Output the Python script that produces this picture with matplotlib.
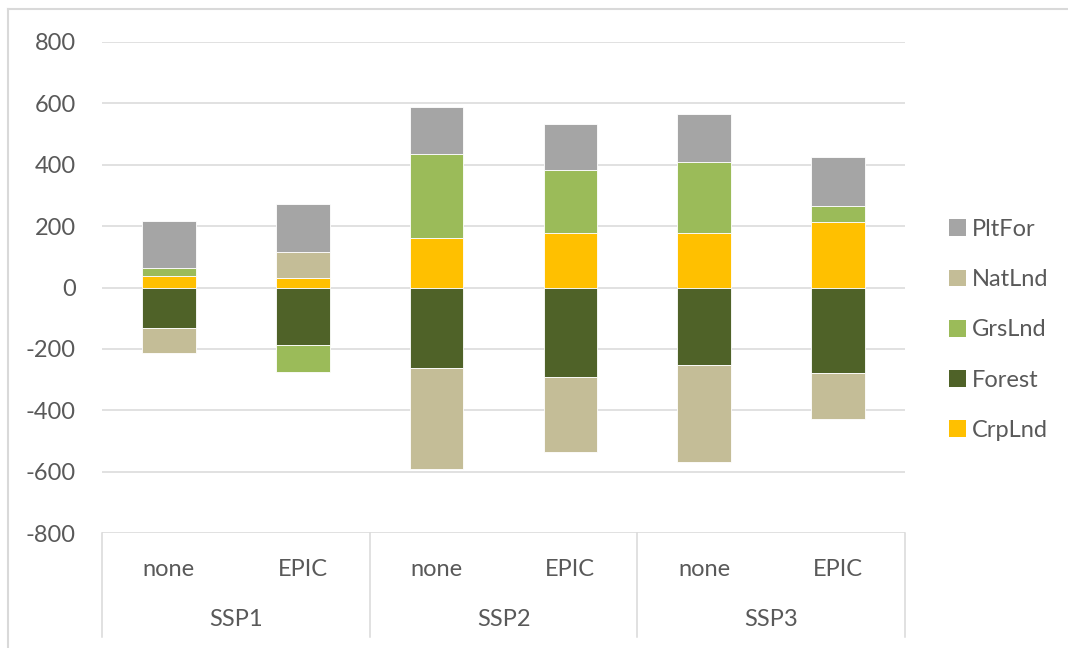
import matplotlib
matplotlib.use("Agg")
import matplotlib.pyplot as plt
from matplotlib.lines import Line2D
from matplotlib.patches import Patch
import numpy as np

plt.rcParams['font.family'] = ['Lato', 'DejaVu Sans']

scenarios = ["SSP1", "SSP2", "SSP3"]
variants = ["none", "EPIC"]
series_names = ["CrpLnd", "Forest", "GrsLnd", "NatLnd", "PltFor"]
CrpLnd = [39, 30, 161, 179, 178, 215]
Forest = [-133, -189, -263, -291, -254, -278]
GrsLnd = [24, -87, 273, 205, 232, 51]
NatLnd = [-82, 87, -330, -246, -315, -152]
PltFor = [153, 155, 155, 148, 154, 158]
y_ticks = [-800, -600, -400, -200, 0, 200, 400, 600, 800]

series = [CrpLnd, Forest, GrsLnd, NatLnd, PltFor]
colors = ["#FFC000", "#4F6228", "#9BBB59", "#C4BD97", "#A5A5A5"]
text_c = "#595959"
grid_c = "#D9D9D9"
fs = 17

W, H = 1068, 648
fig = plt.figure(figsize=(W / 100, H / 100), dpi=100)
ax = fig.add_axes([102 / W, 1 - 533 / H, (905 - 102) / W, (533 - 42) / H])

n = len(scenarios) * len(variants)
x = np.arange(n)
pos_base = np.zeros(n)
neg_base = np.zeros(n)
for vals, col in zip(series, colors):
    v = np.array(vals, dtype=float)
    base = np.where(v >= 0, pos_base, neg_base)
    ax.bar(x, v, bottom=base, width=0.4, color=col, edgecolor="white",
           linewidth=0.6, zorder=3)
    pos_base += np.where(v >= 0, v, 0)
    neg_base += np.where(v < 0, v, 0)

ax.set_xlim(-0.5, n - 0.5)
ax.set_ylim(-800, 800)
ax.set_yticks(y_ticks)
ax.set_yticklabels([str(t) for t in y_ticks])
for t in y_ticks:
    ax.axhline(t, color=grid_c, linewidth=1.1, zorder=1)
for s in ax.spines.values():
    s.set_visible(False)
ax.tick_params(axis="y", length=0, pad=19, labelsize=fs, labelcolor=text_c)
ax.tick_params(axis="x", length=0, labelbottom=False)

# two-level category axis below the plot
trans = ax.get_xaxis_transform()
depth = -(637 - 533) / (533 - 42)
for b in [-0.5, 1.5, 3.5, 5.5]:
    ax.add_line(Line2D([b, b], [0, depth], transform=trans, color=grid_c,
                       linewidth=1.1, clip_on=False))
for i in range(n):
    ax.text(i, -(569 - 533) / (533 - 42), variants[i % 2], transform=trans,
            ha="center", va="center", fontsize=fs, color=text_c)
for j, s in enumerate(scenarios):
    ax.text(2 * j + 0.5, -(620 - 533) / (533 - 42), s, transform=trans,
            ha="center", va="center", fontsize=fs, color=text_c)

# legend
handles = [Patch(facecolor=c, edgecolor="none") for c in colors][::-1]
labels = series_names[::-1]
leg = fig.legend(handles, labels, loc="center left",
                 bbox_to_anchor=(928 / W, 1 - 330 / H), frameon=False,
                 fontsize=fs, labelcolor=text_c, handlelength=0.72,
                 handleheight=0.72, handletextpad=0.22, labelspacing=1.24)

# chart-area border
fig.add_artist(Line2D([8 / W, 8 / W], [0, 1 - 9 / H], color=grid_c, linewidth=1.5))
fig.add_artist(Line2D([8 / W, 1], [1 - 9 / H, 1 - 9 / H], color=grid_c, linewidth=1.5))

fig.savefig("out.png", dpi=100, facecolor="white")
